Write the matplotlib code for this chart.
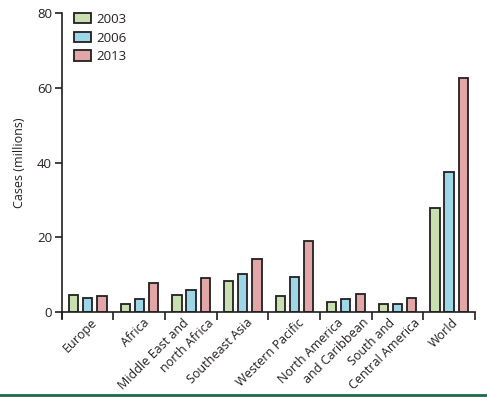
import matplotlib
matplotlib.use("Agg")
import matplotlib.pyplot as plt
import matplotlib.transforms as mtransforms
from matplotlib.lines import Line2D
import numpy as np

plt.rcParams['font.family'] = ['Open Sans', 'DejaVu Sans']

# regio's en aantallen (miljoenen)
regions = ["Europe", "Africa", "Middle East and\nnorth Africa", "Southeast Asia",
           "Western Pacific", "North America\nand Caribbean", "South and\nCentral America", "World"]
years = ["2003", "2006", "2013"]
cases_2003 = [4.5, 2.1, 4.5, 8.3, 4.2, 2.6, 2.1, 27.8]
cases_2006 = [3.7, 3.5, 5.9, 10.3, 9.5, 3.5, 2.1, 37.6]
cases_2013 = [4.2, 7.7, 9.0, 14.3, 19.0, 4.8, 3.7, 62.5]
colours = ["#c8e0b0", "#9dd6e6", "#e3a6a6"]

ink = "#231f20"

fig = plt.figure(figsize=(4.87, 3.97), dpi=100)
ax = fig.add_axes([0.127, 0.214, 0.848, 0.753])

x = np.arange(len(regions))
offsets = [-0.27, 0.0, 0.28]
width = 0.18
for series, off, col, lab in zip([cases_2003, cases_2006, cases_2013], offsets, colours, years):
    ax.bar(x + off, series, width=width, color=col, edgecolor=ink, linewidth=1.3, label=lab)

ax.set_xlim(-0.5, len(regions) - 0.5)
ax.set_ylim(0, 80)
ax.set_yticks([0, 20, 40, 60, 80])
ax.set_xticks(np.arange(len(regions) + 1) - 0.5)
ax.set_xticklabels([])
ax.tick_params(axis='x', direction='out', length=6, width=1.2, color=ink)
ax.tick_params(axis='y', direction='out', length=5, width=1.2, color=ink, labelsize=9.5, labelcolor=ink, pad=2)
for side in ["top", "right"]:
    ax.spines[side].set_visible(False)
for side in ["left", "bottom"]:
    ax.spines[side].set_linewidth(1.2)
    ax.spines[side].set_color(ink)
ax.spines["left"].set_bounds(-1.5, 80)

ax.set_ylabel("Cases (millions)", fontsize=9, color=ink, labelpad=8)

# labels schuin onder de groepen, elke regel apart
trans = mtransforms.blended_transform_factory(ax.transData, ax.transAxes)
for i, label in enumerate(regions):
    lines = label.split("\n")
    if len(lines) == 1:
        shifts = [3]
    else:
        shifts = [-9, 16]
    for line, dx in zip(lines, shifts):
        ax.annotate(line, xy=(i, 0), xycoords=trans, xytext=(dx * 0.72, -3), textcoords='offset points',
                    rotation=45, ha='right', va='top', rotation_mode='anchor', fontsize=9, color=ink)

ax.legend(loc='upper left', bbox_to_anchor=(0.0, 1.04), frameon=False, fontsize=9.5,
          handlelength=1.3, handleheight=0.8, labelspacing=0.42, handletextpad=0.4,
          labelcolor=ink)

fig.add_artist(Line2D([0, 1], [0.006, 0.006], color="#1b6b4a", linewidth=2, transform=fig.transFigure))

fig.savefig("out.png", dpi=100, facecolor="white")
